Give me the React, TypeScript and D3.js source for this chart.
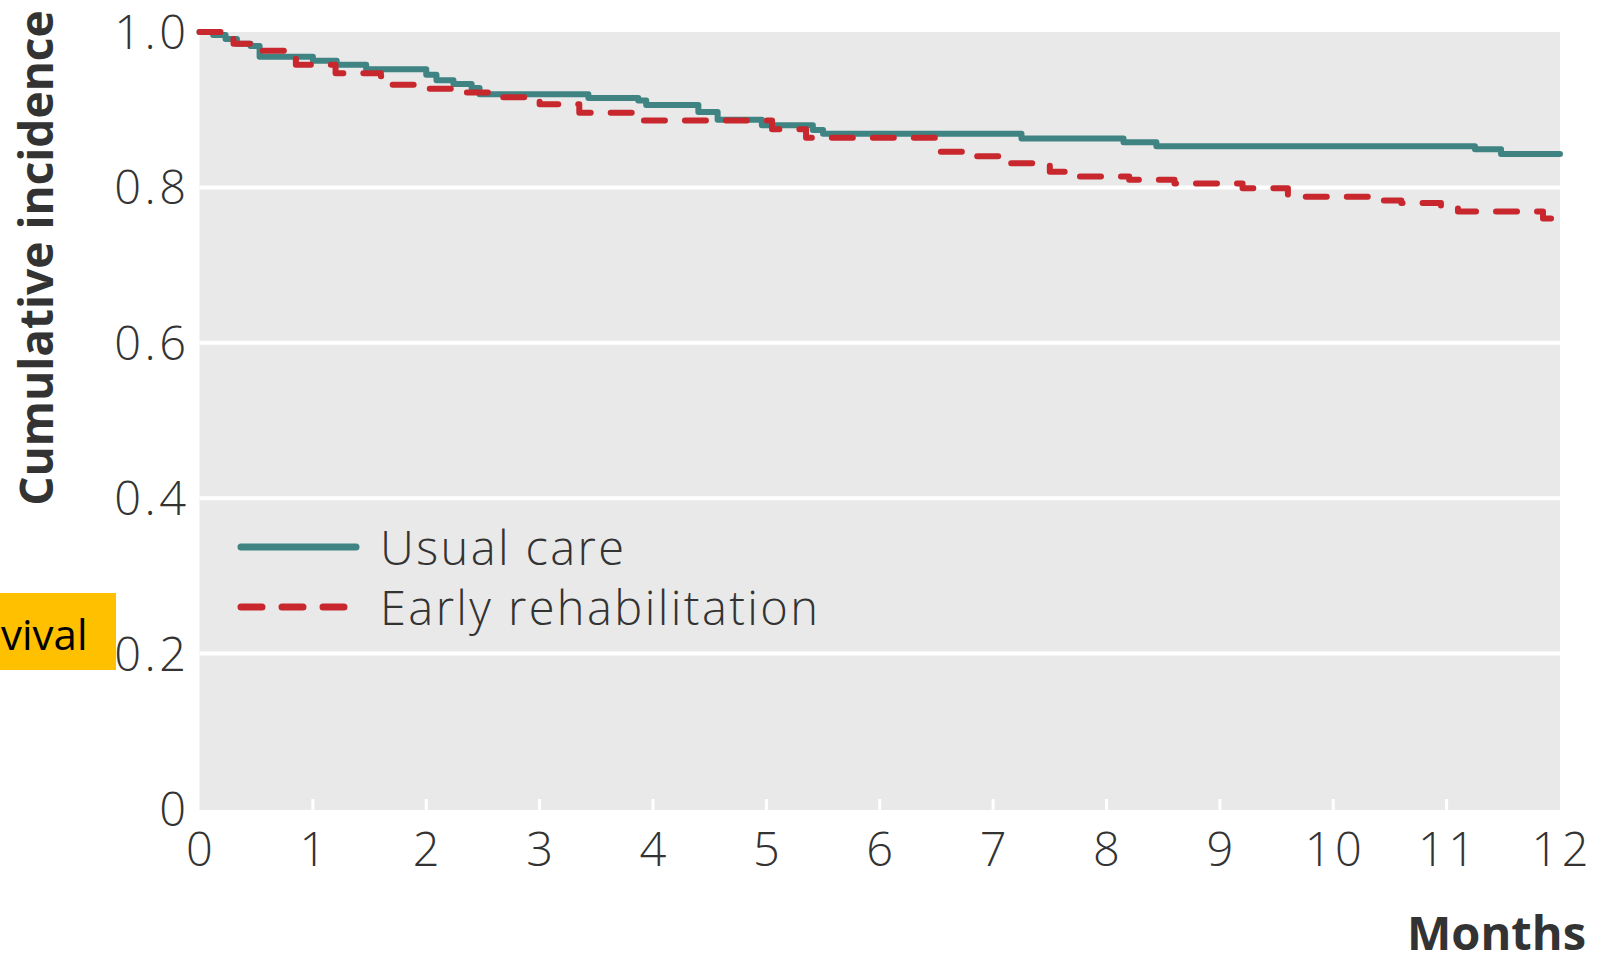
import React, { useEffect, useRef } from 'react';
import * as d3 from 'd3';

// Usual care step curve (months, cumulative incidence)
const usualTimes = [0, 0.12, 0.23, 0.33, 0.45, 0.53, 1.0, 1.21, 1.47, 2.0, 2.09, 2.24, 2.4, 2.47, 3.43, 3.87, 3.94, 4.4, 4.57, 4.96, 5.41, 5.5, 7.25, 8.15, 8.44, 11.25, 11.48, 12];
const usualValues = [1.0, 0.996, 0.991, 0.985, 0.982, 0.968, 0.963, 0.958, 0.952, 0.945, 0.938, 0.933, 0.928, 0.92, 0.915, 0.912, 0.906, 0.897, 0.887, 0.88, 0.874, 0.869, 0.863, 0.858, 0.853, 0.849, 0.843, 0.843];

// Early rehabilitation step curve
const earlyTimes = [0, 0.2, 0.3, 0.45, 0.85, 1.2, 1.6, 1.68, 1.9, 2.25, 2.6, 3.0, 3.35, 3.85, 3.92, 5.05, 5.35, 6.5, 6.8, 7.1, 7.5, 7.65, 8.2, 8.6, 9.2, 9.6, 10.4, 10.6, 10.95, 11.1, 11.85, 11.95, 12];
const earlyValues = [1.0, 0.995, 0.985, 0.976, 0.958, 0.947, 0.943, 0.932, 0.927, 0.922, 0.916, 0.907, 0.896, 0.892, 0.886, 0.875, 0.864, 0.846, 0.84, 0.831, 0.82, 0.814, 0.81, 0.805, 0.799, 0.788, 0.783, 0.78, 0.774, 0.769, 0.76, 0.752, 0.752];

const xTicks = [0, 1, 2, 3, 4, 5, 6, 7, 8, 9, 10, 11, 12];
const yTicks = [0, 0.2, 0.4, 0.6, 0.8, 1.0];
const yTickLabels = ['0', '0.2', '0.4', '0.6', '0.8', '1.0'];
const seriesNames = ['Usual care', 'Early rehabilitation'];

const App: React.FC = () => {
  const svgRef = useRef<SVGSVGElement>(null);
  const width = 1604;
  const height = 963;

  useEffect(() => {
    if (!svgRef.current) return;
    const svg = d3.select(svgRef.current);
    svg.selectAll('*').remove();

    const font = "'Open Sans', 'Noto Sans', sans-serif";
    const x = d3.scaleLinear().domain([0, 12]).range([199.5, 1560]);
    const y = d3.scaleLinear().domain([0, 1]).range([809, 32]);

    svg.append('rect').attr('width', width).attr('height', height).attr('fill', '#fff');

    // panel
    svg.append('rect')
      .attr('x', x(0)).attr('y', y(1))
      .attr('width', x(12) - x(0)).attr('height', y(0) - y(1) + 1)
      .attr('fill', '#e9e9e9');

    // gridlines
    svg.append('g').selectAll('line')
      .data(yTicks.filter(d => d > 0 && d < 1))
      .join('line')
        .attr('x1', x(0)).attr('x2', x(12))
        .attr('y1', d => y(d)).attr('y2', d => y(d))
        .attr('stroke', '#fff').attr('stroke-width', 4);

    // x tick marks
    svg.append('g').selectAll('line')
      .data(xTicks.filter(d => d > 0 && d < 12))
      .join('line')
        .attr('x1', d => x(d)).attr('x2', d => x(d))
        .attr('y1', y(0) + 1).attr('y2', y(0) - 10)
        .attr('stroke', '#fff').attr('stroke-width', 3);

    const textStyle = (sel: any, size: number, weight: number, spacing: number) =>
      sel.attr('font-family', font).attr('font-size', size).attr('font-weight', weight)
        .attr('letter-spacing', spacing).attr('fill', '#333');

    // y tick labels (letter-spacing adds a trailing gap, so shift right by it)
    const tickLs = 3.5;
    svg.append('g').selectAll('text')
      .data(yTicks)
      .join('text')
        .attr('x', 186 + tickLs).attr('y', d => y(d) + 17)
        .attr('text-anchor', 'end')
        .call(textStyle, 47, 300, tickLs)
        .text((_, i) => yTickLabels[i]);

    // x tick labels
    svg.append('g').selectAll('text')
      .data(xTicks)
      .join('text')
        .attr('x', d => x(d) + tickLs / 2).attr('y', 866)
        .attr('text-anchor', 'middle')
        .call(textStyle, 47, 300, tickLs)
        .text(d => String(d));

    const usual = usualTimes.map((t, i) => [x(t), y(usualValues[i])] as [number, number]);
    const early = earlyTimes.map((t, i) => [x(t), y(earlyValues[i])] as [number, number]);
    const step = d3.line().curve(d3.curveStepAfter);

    svg.append('path')
      .attr('d', step(usual))
      .attr('fill', 'none').attr('stroke', '#3f8383').attr('stroke-width', 6)
      .attr('stroke-linejoin', 'round').attr('stroke-linecap', 'round');

    svg.append('path')
      .attr('d', step(early))
      .attr('fill', 'none').attr('stroke', '#c8282d').attr('stroke-width', 6)
      .attr('stroke-dasharray', '21,20')
      .attr('stroke-linejoin', 'round').attr('stroke-linecap', 'round');

    // legend
    const legend = svg.append('g');
    const legendY = [547, 607];
    legend.selectAll('line')
      .data(seriesNames)
      .join('line')
        .attr('x1', 241).attr('x2', 356)
        .attr('y1', (_, i) => legendY[i]).attr('y2', (_, i) => legendY[i])
        .attr('stroke', (_, i) => (i === 0 ? '#3f8383' : '#c8282d'))
        .attr('stroke-width', 7)
        .attr('stroke-linecap', 'round')
        .attr('stroke-dasharray', (_, i) => (i === 0 ? null : '21,20'));
    legend.selectAll('text')
      .data(seriesNames)
      .join('text')
        .attr('x', 380).attr('y', (_, i) => legendY[i] + 18)
        .call(textStyle, 47, 300, 2.4)
        .text(d => d);

    // axis titles
    svg.append('text')
      .attr('transform', `translate(53,258) rotate(-90)`)
      .attr('text-anchor', 'middle')
      .call(textStyle, 46, 700, 0)
      .text('Cumulative incidence');

    svg.append('text')
      .attr('x', 1586).attr('y', 950)
      .attr('text-anchor', 'end')
      .call(textStyle, 47, 700, 0)
      .text('Months');

    // highlighted overlay label
    svg.append('rect')
      .attr('x', 0).attr('y', 593).attr('width', 116).attr('height', 77)
      .attr('fill', '#ffc000');
    svg.append('text')
      .attr('x', 1).attr('y', 650)
      .attr('font-family', "'Open Sans', sans-serif").attr('font-size', 42)
      .attr('fill', '#000')
      .text('vival');
  }, []);

  return (
    <svg
      ref={svgRef}
      width={width}
      height={height}
      style={{ position: 'absolute', left: 0, top: 0 }}
    />
  );
};

export default App;
